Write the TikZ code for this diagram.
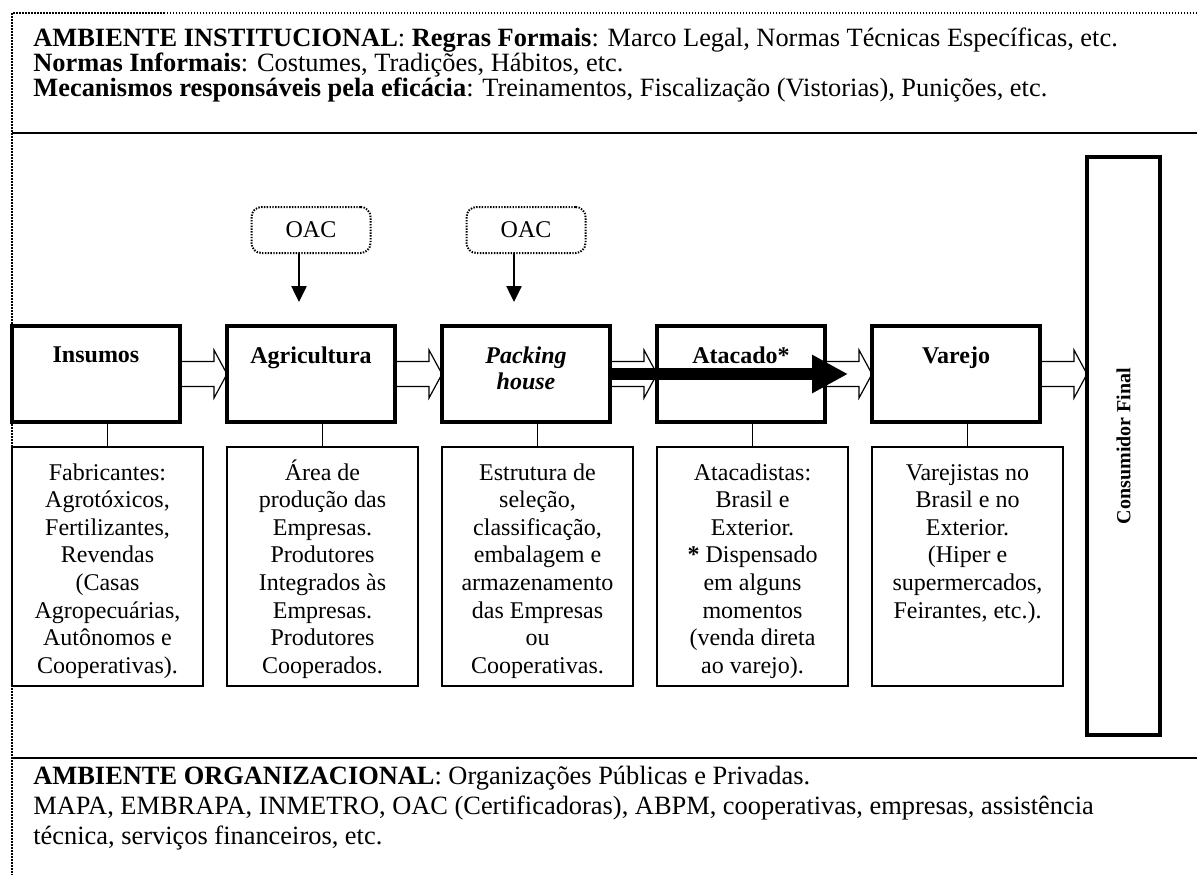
\documentclass[tikz,border=0pt]{standalone}
\usepackage{fontspec}
\setmainfont{Liberation Serif}
\usetikzlibrary{positioning}
\usetikzlibrary{arrows.meta}

\newcommand{\flowarrow}[2]{%
    \draw[line width = 0.6pt]
        ([yshift=6.25pt]#1) -- ([xshift=-6.5pt, yshift=6.25pt]#2)
        -- ([xshift=-6.5pt, yshift=12pt]#2) -- (#2)
        -- ([xshift=-6.5pt, yshift=-12pt]#2) -- ([xshift=-6.5pt, yshift=-6.25pt]#2)
        -- ([yshift=-6.25pt]#1);}
\newcommand{\firstline}{\vphantom{Á}}

\begin{document}
\begin{tikzpicture}[
        x = 0.5pt, y = -0.5pt,
        font = \fontsize{12}{13.8}\selectfont,
        stage/.style = {
            draw,
            line width = 1.6pt,
            minimum width = 84pt,
            minimum height = 48pt,
            inner sep = 0pt,
            outer sep = 0pt
        },
        agent/.style = {
            draw,
            line width = 0.6pt,
            minimum width = 95.5pt,
            minimum height = 119.5pt,
            inner sep = 0pt,
            outer sep = 0pt
        },
        oac/.style = {
            draw,
            rounded corners = 5pt,
            line width = 1pt,
            dash pattern = on 0.7pt off 0.7pt,
            minimum width = 59.5pt,
            minimum height = 23pt,
            inner sep = 0pt,
            outer sep = 0pt
        },
        caption/.style = {anchor=north, inner sep=0pt, align=center, font=\fontsize{12}{13}\selectfont\bfseries},
        agenttext/.style = {anchor=north, inner sep=0pt, align=center},
        envtext/.style = {anchor=north west, inner sep=0pt, align=left, font=\fontsize{13.2}{12.5}\selectfont},
        frame/.style = {line width=1.3pt, dash pattern=on 0.75pt off 0.75pt},
        node distance = 23.5pt
        ]
        \useasboundingbox (0,0) rectangle (1197,875);
%
        \draw[frame] (1197,13) -- (12,13) -- (12,875);
        \draw[line width = 1.2pt] (12,133) -- (1197,133);
        \draw[line width = 1.2pt] (12,758) -- (1197,758);
%
        \node[envtext] (inst) at (33,28) {\textbf{AMBIENTE INSTITUCIONAL}: \textbf{Regras Formais}: Marco Legal, Normas Técnicas Específicas, etc.\\
            \textbf{Normas Informais}: Costumes, Tradições, Hábitos, etc.\\
            \textbf{Mecanismos responsáveis pela eficácia}: Treinamentos, Fiscalização (Vistorias), Punições, etc.};
%
        \node[stage, anchor=north west] (u1) at (12,326) {};
        \node[stage] (u2) [right=of u1] {};
        \node[stage] (u3) [right=of u2] {};
        \node[stage] (u4) [right=of u3] {};
        \node[stage] (u5) [right=of u4] {};
%
        \node[caption] (t1) [below=10pt of u1.north] {Insumos};
        \node[caption] (t2) [below=10pt of u2.north] {Agricultura};
        \node[caption] (t3) [below=10pt of u3.north] {\itshape Packing\\ \itshape house};
        \node[caption] (t4) [below=10pt of u4.north] {Atacado*};
        \node[caption] (t5) [below=10pt of u5.north] {Varejo};
%
        \node[stage, minimum width=36.5pt, minimum height=289pt, anchor=north west] (C) at (1087,157) {};
        \node[font=\bfseries, rotate=90, inner sep=0pt] (cf) at (C.center) {Consumidor Final};
%
        \node[oac] (o1) [above=36.5pt of u2] {OAC};
        \node[oac] (o2) [above=36.5pt of u3] {OAC};
        \coordinate (a1) at ([xshift=-6pt, yshift=12pt]u2.north);
        \coordinate (a2) at ([xshift=-6pt, yshift=12pt]u3.north);
        \draw[line width = 1.25pt, -{Triangle[length=8pt, width=7.5pt]}] ([xshift=-6pt]o1.south) -- (a1);
        \draw[line width = 1.25pt, -{Triangle[length=8pt, width=7.5pt]}] ([xshift=-6pt]o2.south) -- (a2);
%
        \node[agent, anchor=north west] (l1) at (12,447) {};
        \node[agent] (l2) [right=12pt of l1] {};
        \node[agent] (l3) [right=12pt of l2] {};
        \node[agent] (l4) [right=12pt of l3] {};
        \node[agent] (l5) [right=12pt of l4] {};
%
        \node[agenttext] (d1) [below=6pt of l1.north] {\firstline Fabricantes:\\ Agrotóxicos,\\ Fertilizantes,\\ Revendas\\ (Casas\\ Agropecuárias,\\ Autônomos e\\ Cooperativas).};
        \node[agenttext] (d2) [below=6pt of l2.north] {\firstline Área de\\ produção das\\ Empresas.\\ Produtores\\ Integrados às\\ Empresas.\\ Produtores\\ Cooperados.};
        \node[agenttext] (d3) [below=6pt of l3.north] {\firstline Estrutura de\\ seleção,\\ classificação,\\ embalagem e\\ armazenamento\\ das Empresas\\ ou\\ Cooperativas.};
        \node[agenttext] (d4) [below=6pt of l4.north] {\firstline Atacadistas:\\ Brasil e\\ Exterior.\\ \textbf{*} Dispensado\\ em alguns\\ momentos\\ (venda direta\\ ao varejo).};
        \node[agenttext] (d5) [below=6pt of l5.north] {\firstline Varejistas no\\ Brasil e no\\ Exterior.\\ (Hiper e\\ supermercados,\\ Feirantes, etc.).};
%
        \draw[line width = 0.6pt] (l1.north) -- (l1.north |- u1.south);
        \draw[line width = 0.6pt] (l2.north) -- (l2.north |- u2.south);
        \draw[line width = 0.6pt] (l3.north) -- (l3.north |- u3.south);
        \draw[line width = 0.6pt] (l4.north) -- (l4.north |- u4.south);
        \draw[line width = 0.6pt] (l5.north) -- (l5.north |- u5.south);
%
        \coordinate (c5) at (u5.east -| C.west);
        \flowarrow{u1.east}{u2.west}
        \flowarrow{u2.east}{u3.west}
        \flowarrow{u3.east}{u4.west}
        \flowarrow{u4.east}{u5.west}
        \flowarrow{u5.east}{c5}
%
        \coordinate (b4) at ([xshift=11.5pt]u4.east);
        \draw[line width = 6pt, -{Triangle[length=18pt, width=18pt]}] (u3.east) -- (b4);
%
        \node[envtext, font=\fontsize{13.2}{15}\selectfont] (org) at (33,766) {\textbf{AMBIENTE ORGANIZACIONAL}: Organizações Públicas e Privadas.\\
            MAPA, EMBRAPA, INMETRO, OAC (Certificadoras), ABPM, cooperativas, empresas, assistência\\
            técnica, serviços financeiros, etc.};
\end{tikzpicture}
\end{document}
